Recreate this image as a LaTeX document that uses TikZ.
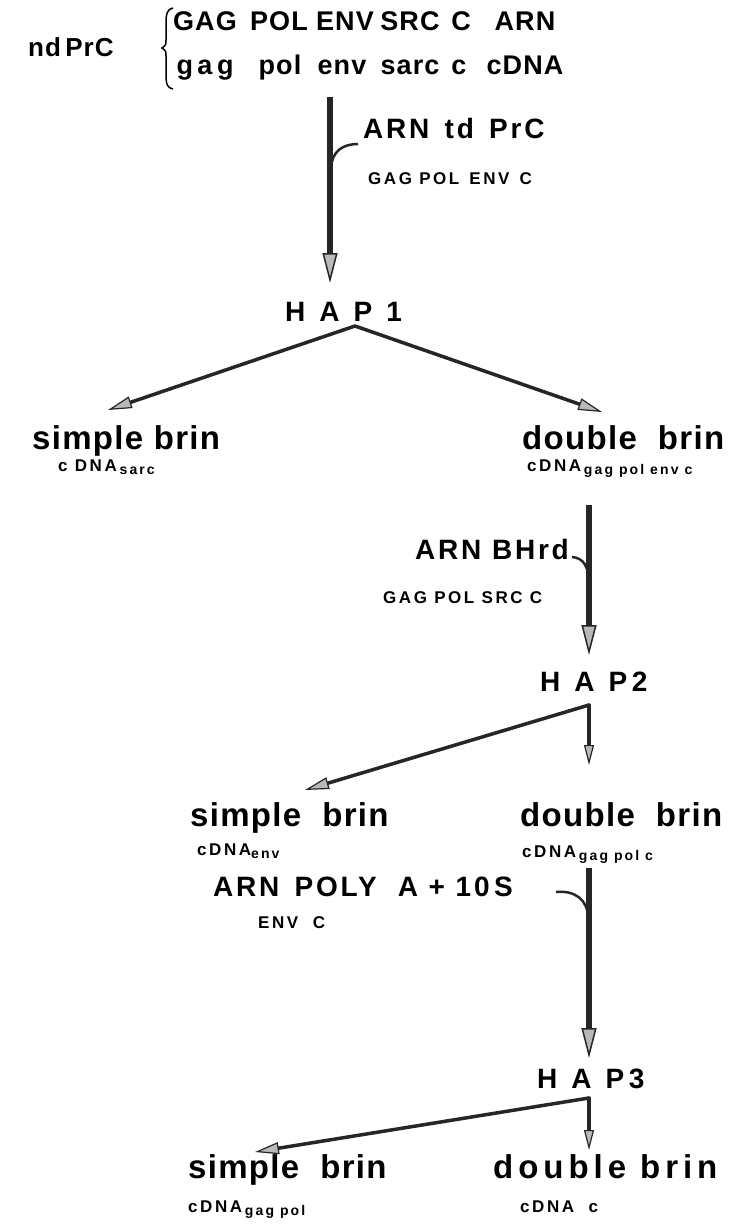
\documentclass[tikz,border=0pt]{standalone}
\usepackage{fontspec}
\newfontfamily\lab{Liberation Sans}[LetterSpace=10]
\newfontfamily\labs{Liberation Sans}[LetterSpace=4]
\newfontfamily\labw{Liberation Sans}[LetterSpace=15]
\usetikzlibrary{arrows.meta}
\usetikzlibrary{positioning}
\tikzstyle{big} = [font=\lab\bfseries\fontsize{28}{28}\selectfont, inner sep=0pt, anchor=base west]
\tikzstyle{word} = [font=\labs\bfseries\fontsize{27}{27}\selectfont, inner sep=0pt, anchor=base]
\tikzstyle{strand} = [font=\labs\bfseries\fontsize{33}{33}\selectfont, inner sep=0pt, anchor=base west]
\tikzstyle{small} = [font=\labw\bfseries\fontsize{17}{17}\selectfont, inner sep=0pt, anchor=base west]
\tikzstyle{flow} = [
	line width=5.5pt,
	draw=black!85,
	-{Triangle[length=30pt,width=15pt,line width=1.5pt,fill=gray!55]}
]
\tikzstyle{branch} = [
	line width=3.5pt,
	draw=black!85,
	line cap=round,
	-{Triangle[length=24pt,width=12pt,line width=1.2pt,fill=gray!55]}
]
\tikzstyle{drop} = [
	line width=3.5pt,
	draw=black!85,
	line cap=round,
	-{Triangle[length=20pt,width=10pt,line width=1.2pt,fill=gray!55]}
]
\tikzstyle{hook} = [line width=2.5pt, draw=black!85]
\newcommand{\lowr}[1]{\raisebox{-3pt}{\labw\bfseries\fontsize{14}{14}\selectfont #1}}
\newcommand{\gap}{\hspace{0.5em}}

\begin{document}
\begin{tikzpicture}[x=1pt, y=-1pt]
	\path[use as bounding box, fill=white] (0,0) rectangle (729,1225);

	% ndPrC and its two strands
	\node[big, font=\labs\bfseries\fontsize{26}{26}\selectfont, name=nd] at (28,57) {nd\,PrC};
	\draw[line width=1.5pt] (173,8) .. controls (167,9) and (166,14) .. (166,24) -- (166,40)
		.. controls (166,45) .. (162,48) .. controls (166,51) .. (166,56) -- (166,74)
		.. controls (166,84) and (167,88) .. (173,89);
	\foreach \w/\x [count=\i] in {GAG/205, POL/279, ENV/345, SRC/410, C/461, ARN/525}
		\node[word, name=up\i] at (\x,31) {\w};
	\foreach \w/\x [count=\i] in {g\,a\,g/205, pol/280, env/342, sarc/410, c/459, cDNA/525}
		\node[word, name=lo\i] at (\x,75) {\w};

	% ARN td PrC -> HAP 1
	\coordinate (s1) at (330,97);
	\coordinate (e1) at (330,283);
	\draw[flow] (s1) -- (e1);
	\node[big, name=arn1] at (363,139) {ARN\ \,td\ \,PrC};
	\node[small, name=mix1] at (368,185) {GAG POL\ \,ENV\ \,C};
	\coordinate (h1) at (358,144);
	\draw[hook] (h1) .. controls (343,144) and (332,151) .. (331,168);
	\node[big, name=hap1] at (285,321) {H\gap A\gap P\gap 1};

	\coordinate (p1) at (355,326);
	\coordinate (l1) at (108,410);
	\coordinate (r1) at (602,412);
	\draw[branch] (p1) -- (l1);
	\draw[branch] (p1) -- (r1);
	\node[strand, name=sb1] at (32,449) {simple brin};
	\node[small, name=sc1] at (58,471) {c DNA\,\lowr{sarc}};
	\node[strand, name=db1] at (522,449) {double\ \ brin};
	\node[small, name=dc1] at (527,471) {cDNA\,\lowr{gag pol\ env c}};

	% ARN BHrd -> HAP2
	\coordinate (s2) at (589,505);
	\coordinate (e2) at (589,655);
	\draw[flow] (s2) -- (e2);
	\node[big, name=arn2] at (415,559) {ARN BHrd};
	\node[small, name=mix2] at (383,603) {GAG POL SRC\ C};
	\coordinate (h2) at (572,557);
	\draw[hook] (h2) .. controls (584,558) and (589,567) .. (589,585);
	\node[big, name=hap2] at (540,691) {H\gap A\gap P\,2};

	\coordinate (p2) at (589,705);
	\coordinate (l2) at (305,790);
	\coordinate (d2) at (589,765);
	\draw[branch] (p2) -- (l2);
	\draw[drop] (p2) -- (d2);
	\node[strand, name=sb2] at (190,826) {simple\ \ brin};
	\node[small, name=sc2] at (197,855) {cDNA\lowr{env}};
	\node[strand, name=db2] at (520,826) {double\ \ brin};
	\node[small, name=dc2] at (522,857) {cDNA\,\lowr{gag pol c}};

	% ARN POLY A+10S -> HAP3
	\coordinate (s3) at (589,868);
	\coordinate (e3) at (589,1058);
	\draw[flow] (s3) -- (e3);
	\node[big, name=arn3] at (213,896) {ARN\ \,POLY\ \ A\ +\ 10\,S};
	\node[small, name=mix3] at (258,928) {ENV\ \ C};
	\coordinate (h3) at (556,892);
	\draw[hook] (h3) .. controls (575,890) and (588,900) .. (588,918);
	\node[big, name=hap3] at (537,1088) {H\gap A\gap P\,3};

	\coordinate (p3) at (589,1098);
	\coordinate (l3) at (255,1152);
	\coordinate (d3) at (589,1150);
	\draw[branch] (p3) -- (l3);
	\draw[drop] (p3) -- (d3);
	\node[strand, name=sb3] at (188,1178) {simple\ \ brin};
	\node[small, name=sc3] at (188,1212) {cDNA\,\lowr{gag pol}};
	\node[strand, font=\labw\bfseries\fontsize{33}{33}\selectfont, name=db3] at (493,1178) {double brin};
	\node[small, name=dc3] at (520,1212) {cDNA\ \ c};
\end{tikzpicture}
\end{document}
